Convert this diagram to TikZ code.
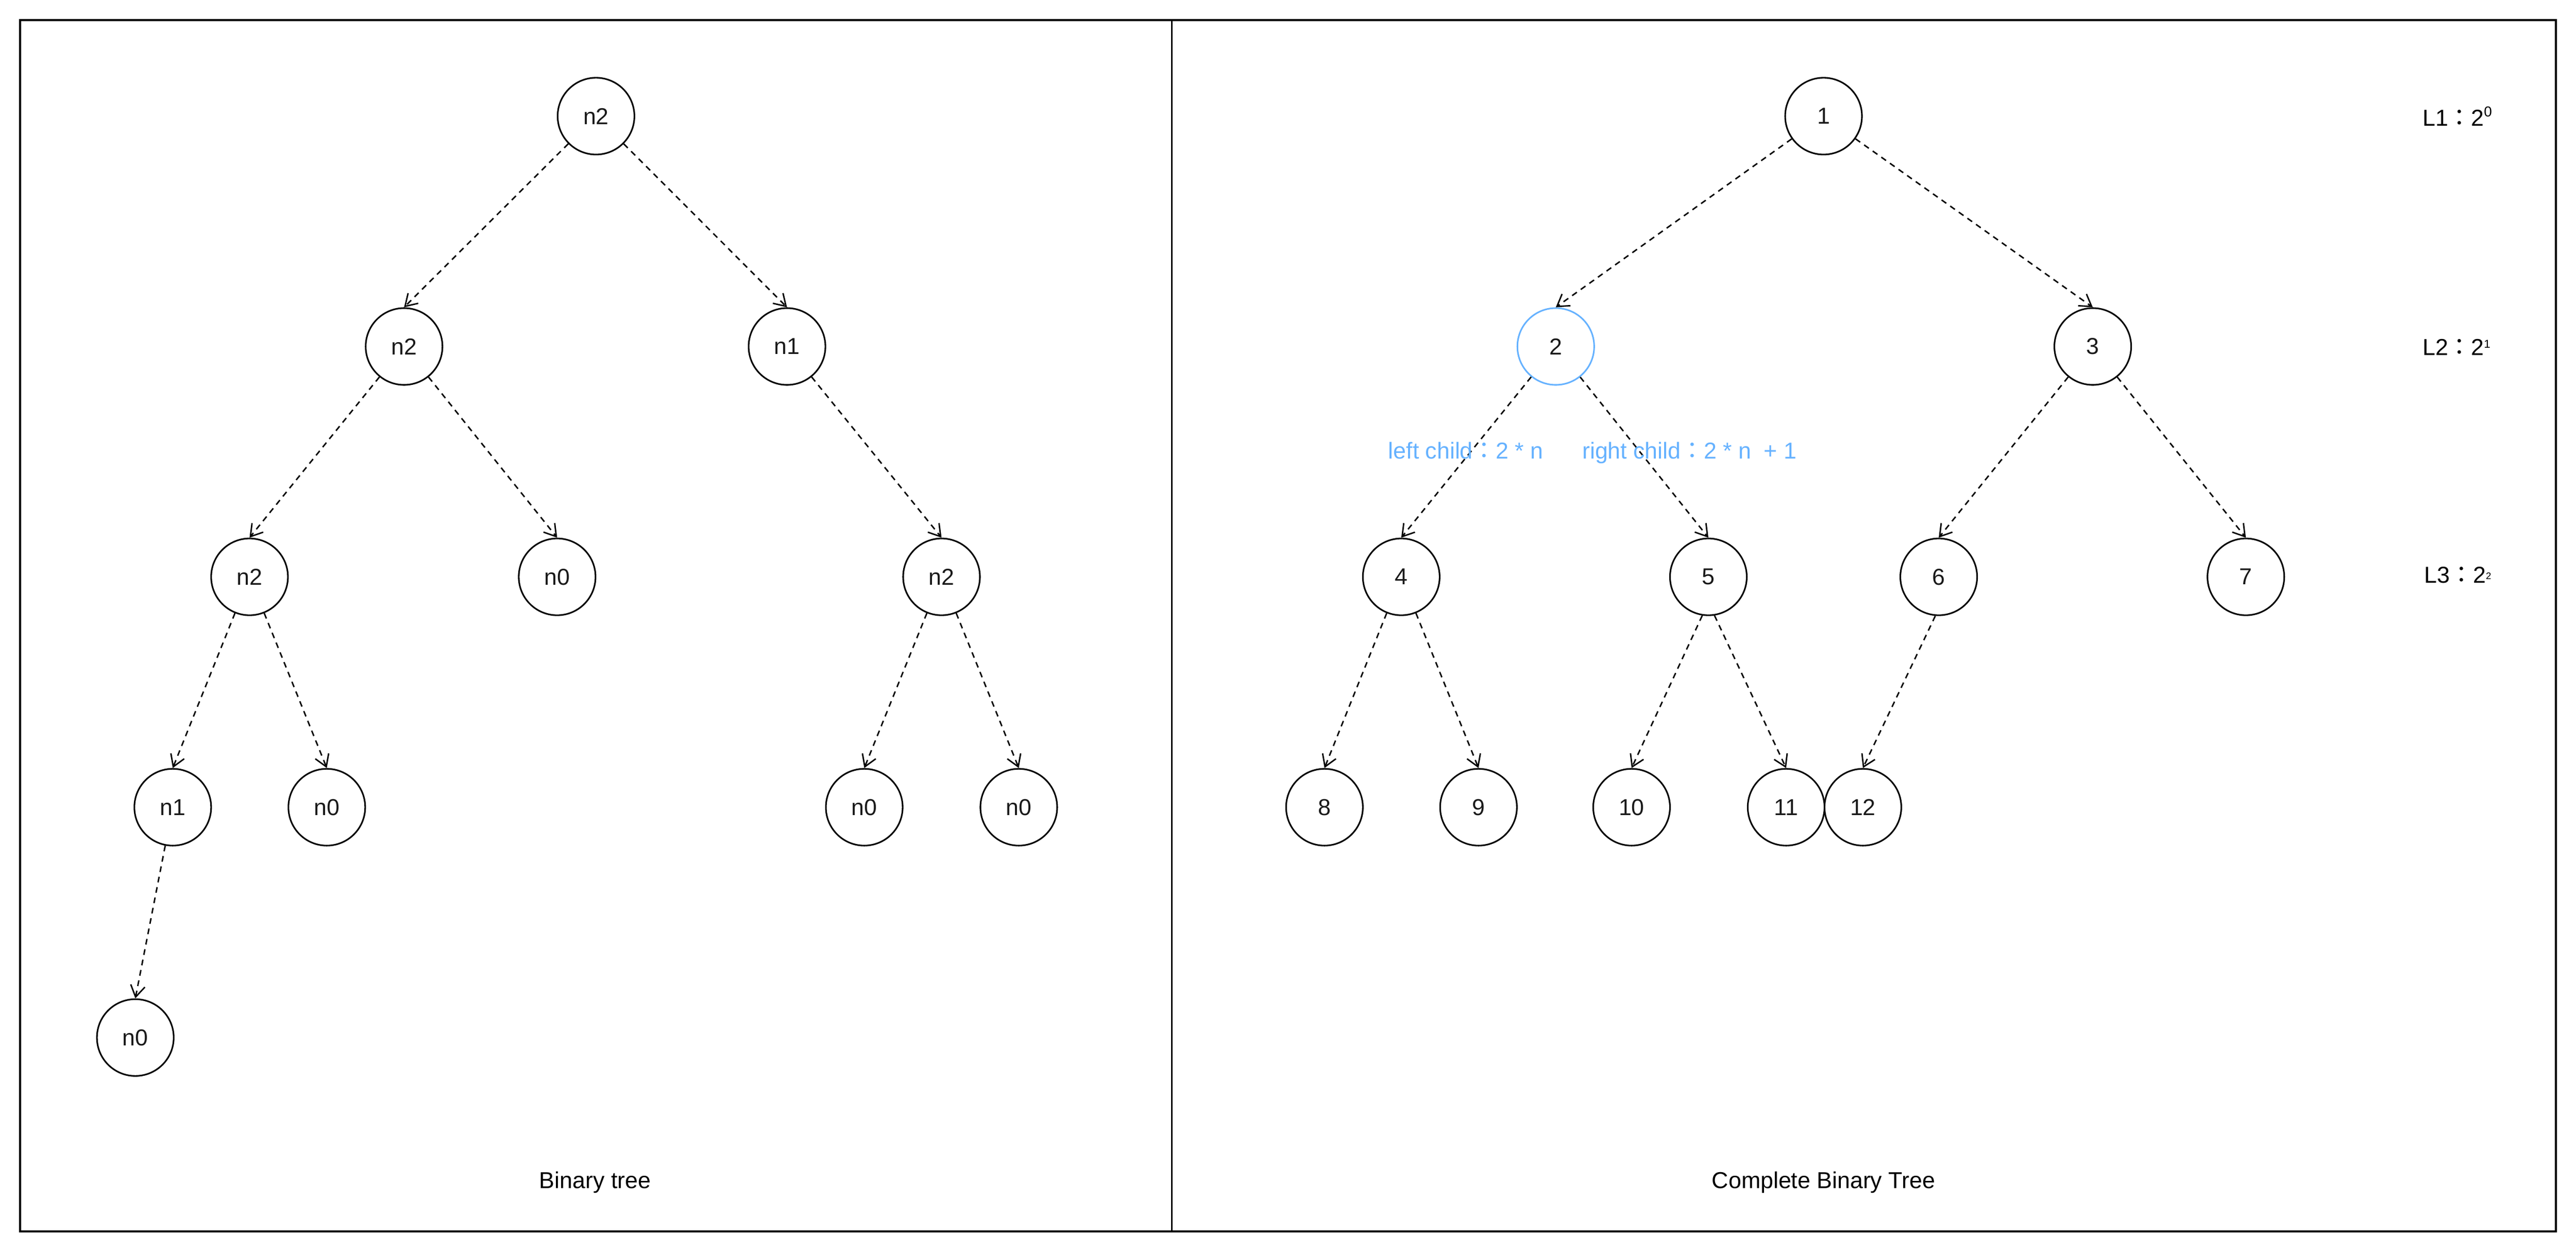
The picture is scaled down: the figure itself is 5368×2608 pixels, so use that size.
\documentclass[tikz,border=0pt]{standalone}
\usepackage{fontspec}
\setmainfont{Liberation Sans}
\newfontfamily\cjk{Noto Sans CJK JP}
\usetikzlibrary{arrows.meta}
\definecolor{hl}{HTML}{66B2FF}
\definecolor{txt}{HTML}{1A1A1A}
\begin{document}
\begin{tikzpicture}[x=1pt,y=-1pt,
  tn/.style={circle,draw=black,line width=3.3pt,minimum size=160pt,inner sep=0pt,
             font=\fontsize{48}{58}\selectfont,text=txt},
  edge/.style={line width=3pt,dash pattern=on 12pt off 10pt,
               -{Straight Barb[length=24pt,width=30pt]}},
  lbl/.style={font=\fontsize{48}{58}\selectfont,inner sep=0pt},
  blue/.style={lbl,text=hl}
  ]
\useasboundingbox (0,0) rectangle (5368,2608);
\draw[line width=4pt] (42,42) rectangle (5326,2566);
\draw[line width=4pt] (2442,42) -- (2442,2566);

% left tree
\node[tn] (a)  at (1242,242)  {n2};
\node[tn] (b)  at (842,722)   {n2};
\node[tn] (c)  at (1640,722)  {n1};
\node[tn] (d)  at (520,1202)  {n2};
\node[tn] (e)  at (1161,1202) {n0};
\node[tn] (f)  at (1962,1202) {n2};
\node[tn] (g)  at (360,1682)  {n1};
\node[tn] (h)  at (681,1682)  {n0};
\node[tn] (i)  at (1801,1682) {n0};
\node[tn] (j)  at (2123,1682) {n0};
\node[tn] (k)  at (282,2162)  {n0};

\draw[edge] (a) -- (b.north);
\draw[edge] (a) -- (c.north);
\draw[edge] (b) -- (d.north);
\draw[edge] (b) -- (e.north);
\draw[edge] (c) -- (f.north);
\draw[edge] (d) -- (g.north);
\draw[edge] (d) -- (h.north);
\draw[edge] (f) -- (i.north);
\draw[edge] (f) -- (j.north);
\draw[edge] (g) -- (k.north);

\node[lbl,anchor=base] (t1) at (1240,2476) {Binary tree};

% right tree
\node[tn] (r1)  at (3800,242)  {1};
\node[tn,draw=hl] (r2)  at (3242,722)  {2};
\node[tn] (r3)  at (4361,722)  {3};
\node[tn] (r4)  at (2920,1202) {4};
\node[tn] (r5)  at (3560,1202) {5};
\node[tn] (r6)  at (4040,1202) {6};
\node[tn] (r7)  at (4680,1202) {7};
\node[tn] (r8)  at (2760,1682) {8};
\node[tn] (r9)  at (3081,1682) {9};
\node[tn] (r10) at (3400,1682) {10};
\node[tn] (r11) at (3722,1682) {11};
\node[tn] (r12) at (3882,1682) {12};

\draw[edge] (r1) -- (r2.north);
\draw[edge] (r1) -- (r3.north);
\draw[edge] (r2) -- (r4.north);
\draw[edge] (r2) -- (r5.north);
\draw[edge] (r3) -- (r6.north);
\draw[edge] (r3) -- (r7.north);
\draw[edge] (r4) -- (r8.north);
\draw[edge] (r4) -- (r9.north);
\draw[edge] (r5.261) -- (r10.north);
\draw[edge] (r5.279) -- (r11.north);
\draw[edge] (r6.265) -- (r12.north);

\node[blue,anchor=base west] (lc) at (2893,956) {left child{\cjk ：}2 * n};
\node[blue,anchor=base west] (rc) at (3297,956) {right child{\cjk ：}2 * n\hspace{13.3pt} + 1};

\node[lbl,anchor=base west] (l1) at (5048,263)  {L1{\cjk ：}2\raisebox{20pt}{\fontsize{30}{36}\selectfont 0}};
\node[lbl,anchor=base west] (l2) at (5048,740)  {L2{\cjk ：}2\raisebox{15pt}{\fontsize{24}{28}\selectfont 1}};
\node[lbl,anchor=base west] (l3) at (5052,1215) {L3{\cjk ：}2\raisebox{8pt}{\fontsize{20}{24}\selectfont 2}};

\node[lbl,anchor=base] (t2) at (3800,2476) {Complete Binary Tree};
\end{tikzpicture}
\end{document}
